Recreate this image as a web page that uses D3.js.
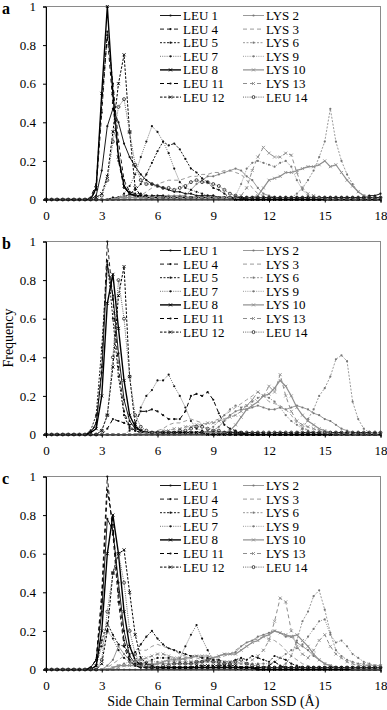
<!DOCTYPE html>
<html>
<head>
<meta charset="utf-8">
<script src="https://cdn.jsdelivr.net/npm/d3@7"></script>
<style>
  body { margin: 0; background: #fff; }
  svg { display: block; font-family: "Liberation Serif", "Times New Roman", serif; }
</style>
</head>
<body>
<div id="chart"></div>
<script>
"use strict";

/* ===== data ===== */

let xValues = [0,0.3,0.6,0.9,1.2,1.5,1.8,2.1,2.4,2.7,3,3.3,3.6,3.9,4.2,4.5,4.8,5.1,5.4,5.7,
  6,6.3,6.6,6.9,7.2,7.5,7.8,8.1,8.4,8.7,9,9.3,9.6,9.9,10.2,10.5,10.8,11.1,11.4,11.7,
  12,12.3,12.6,12.9,13.2,13.5,13.8,14.1,14.4,14.7,15,15.3,15.6,15.9,16.2,16.5,16.8,17.1,17.4,17.7,18];

let xTicks = [0, 3, 6, 9, 12, 15, 18];
let yTicks = [0, 0.2, 0.4, 0.6, 0.8, 1];

let seriesNames = ["LEU 1","LYS 2","LYS 3","LEU 4","LEU 5","LYS 6","LEU 7",
                   "LEU 8","LYS 9","LYS 10","LEU 11","LEU 12","LYS 13","LEU 14"];

let legendLeft  = ["LEU 1","LEU 4","LEU 5","LEU 7","LEU 8","LEU 11","LEU 12"];
let legendRight = ["LYS 2","LYS 3","LYS 6","LYS 9","LYS 10","LYS 13","LEU 14"];

let panelLetters = ["a", "b", "c"];

/* panel a, one row per series in seriesNames order */
let panelA = [
  [0,0,0,0,0,0,0,0,0,0.02, 0.15,0.38,0.47,0.40,0.29,0.22,0.17,0.13,0.10,0.08,
   0.07,0.06,0.05,0.04,0.04,0.03,0.03,0.02,0.02,0.02, 0.02,0.01,0.01,0.01,0.01,0.01,0.01,0.01,0.01,0.01,
   0.01,0.01,0.01,0.01,0.01,0.01,0.01,0.01,0.01,0.01, 0.01,0.01,0.01,0.01,0.01,0.01,0.01,0.01,0.02,0.02,0.03],
  [0,0,0,0,0,0,0,0,0,0, 0,0,0.01,0.01,0.02,0.02,0.02,0.02,0.02,0.02,
   0.02,0.02,0.02,0.02,0.02,0.02,0.05,0.08,0.10,0.12, 0.12,0.13,0.14,0.15,0.16,0.15,0.12,0.10,0.06,0.03,
   0.02,0.01,0.01,0.01,0.01,0.01,0,0,0,0, 0,0,0,0,0,0,0,0,0,0,0],
  [0,0,0,0,0,0,0,0,0,0, 0,0,0,0.01,0.01,0.02,0.02,0.02,0.04,0.06,
   0.08,0.09,0.10,0.10,0.10,0.11,0.12,0.12,0.13,0.13, 0.14,0.14,0.15,0.15,0.14,0.13,0.10,0.06,0.03,0.02,
   0.01,0.01,0,0,0,0,0,0,0,0, 0,0,0,0,0,0,0,0,0,0,0],
  [0,0,0,0,0,0,0,0,0,0.05, 0.45,0.87,0.60,0.30,0.10,0.04,0.03,0.03,0.02,0.02,
   0.02,0.02,0.01,0.01,0.01,0.01,0.01,0.01,0.01,0.01, 0.01,0.01,0.01,0.01,0.01,0.01,0.01,0.01,0,0,
   0,0,0,0,0,0,0,0,0,0, 0,0,0,0,0,0,0,0,0,0,0],
  [0,0,0,0,0,0,0,0,0,0, 0,0,0.01,0.01,0.01,0.03,0.05,0.08,0.13,0.19,
   0.25,0.30,0.28,0.29,0.26,0.21,0.16,0.14,0.11,0.09, 0.06,0.05,0.03,0.01,0.01,0.01,0.01,0.01,0.01,0.01,
   0.01,0.01,0.01,0.01,0.01,0.01,0.01,0.01,0.01,0.01, 0.01,0.01,0.01,0.01,0.01,0.01,0.01,0.01,0.01,0.01,0.01],
  [0,0,0,0,0,0,0,0,0,0, 0,0,0,0,0,0,0,0,0,0,
   0,0,0,0,0,0,0,0,0,0, 0,0,0,0,0,0,0,0,0,0,
   0,0,0,0,0.01,0.03,0.06,0.10,0.15,0.22, 0.30,0.47,0.30,0.20,0.13,0.08,0.04,0.02,0.01,0.01,0.01],
  [0,0,0,0,0,0,0,0,0,0, 0,0,0,0.01,0.03,0.07,0.13,0.22,0.30,0.38,
   0.35,0.30,0.24,0.16,0.09,0.06,0.05,0.04,0.03,0.02, 0.02,0.01,0.01,0.01,0.01,0.01,0.01,0.01,0.01,0.01,
   0.01,0.01,0.01,0.01,0.01,0.01,0,0,0,0, 0,0,0,0,0,0,0,0,0,0,0],
  [0,0,0,0,0,0,0,0,0,0.06, 0.55,1.00,0.55,0.22,0.07,0.03,0.02,0.01,0.01,0.01,
   0.01,0.01,0.01,0.01,0.01,0.01,0.01,0.01,0.01,0.01, 0.01,0.01,0.01,0.01,0,0,0,0,0,0,
   0,0,0,0,0,0,0,0,0,0, 0,0,0,0,0,0,0,0,0,0,0],
  [0,0,0,0,0,0,0,0,0,0, 0,0,0,0,0.01,0.01,0.01,0.01,0.01,0.01,
   0.01,0.01,0.01,0.01,0.01,0.01,0.01,0.01,0.01,0.01, 0.01,0.01,0.01,0.01,0.02,0.08,0.16,0.19,0.20,0.19,
   0.18,0.17,0.19,0.20,0.17,0.10,0.05,0.02,0.01,0.01, 0,0,0,0,0,0,0,0,0,0,0],
  [0,0,0,0,0,0,0,0,0,0, 0,0,0,0.01,0.01,0.01,0.01,0.01,0.01,0.01,
   0.01,0.01,0.01,0.01,0.01,0.01,0.01,0.01,0.01,0.01, 0.01,0.01,0.01,0.01,0.01,0.01,0.01,0.01,0.02,0.06,
   0.10,0.11,0.12,0.14,0.14,0.15,0.16,0.17,0.17,0.18, 0.20,0.17,0.18,0.14,0.10,0.07,0.04,0.02,0.01,0.01,0.01],
  [0,0,0,0,0,0,0,0,0.01,0.08, 0.50,0.85,0.50,0.20,0.06,0.03,0.02,0.02,0.02,0.01,
   0.01,0.01,0.01,0.01,0.01,0.01,0.01,0.01,0.01,0.01, 0.01,0.01,0.01,0.01,0.01,0.01,0.01,0.01,0.01,0.01,
   0.01,0.01,0.01,0.01,0.01,0.01,0.01,0.01,0.01,0.01, 0.01,0.01,0.01,0.01,0.01,0.01,0.01,0.01,0.01,0.01,0.01],
  [0,0,0,0,0,0,0,0,0,0.01, 0.03,0.12,0.35,0.60,0.75,0.35,0.06,0.02,0.01,0.01,
   0.01,0.01,0.01,0.01,0.01,0.01,0.01,0.01,0.01,0.01, 0.01,0.01,0.01,0.01,0.01,0.01,0,0,0,0,
   0,0,0,0,0,0,0,0,0,0, 0,0,0,0,0,0,0,0,0,0,0],
  [0,0,0,0,0,0,0,0,0,0, 0,0,0,0,0,0.01,0.01,0.01,0.01,0.01,
   0.01,0.01,0.01,0.01,0.01,0.01,0.01,0.01,0.01,0.01, 0.01,0.01,0.01,0.01,0.01,0.02,0.06,0.15,0.22,0.27,
   0.24,0.22,0.22,0.24,0.23,0.14,0.06,0.03,0.02,0.01, 0,0,0,0,0,0,0,0,0,0,0],
  [0,0,0,0,0,0,0,0,0,0, 0.02,0.10,0.30,0.48,0.52,0.35,0.18,0.10,0.08,0.08,
   0.07,0.06,0.06,0.05,0.06,0.07,0.09,0.10,0.09,0.09, 0.08,0.07,0.05,0.03,0.02,0.01,0.01,0.01,0.01,0.01,
   0.01,0.01,0.01,0.01,0.01,0.01,0.01,0.01,0.01,0.01, 0.01,0.01,0.01,0.01,0.01,0.01,0.01,0.01,0.01,0.01,0.01]
];

/* panel b */
let panelB = [
  [0,0,0,0,0,0,0,0,0.01,0.06, 0.32,0.88,0.72,0.42,0.18,0.07,0.03,0.02,0.01,0.01,
   0.01,0.01,0.01,0.01,0.01,0.01,0.01,0.01,0.01,0.01, 0.01,0.01,0.01,0.01,0.01,0,0,0,0,0,
   0,0,0,0,0,0,0,0,0,0, 0,0,0,0,0,0,0,0,0,0,0],
  [0,0,0,0,0,0,0,0,0,0, 0,0,0,0,0,0,0,0.01,0.01,0.01,
   0.01,0.01,0.01,0.01,0.01,0.01,0.01,0.01,0.01,0.01, 0.02,0.04,0.07,0.10,0.12,0.13,0.13,0.14,0.15,0.14,
   0.13,0.13,0.14,0.13,0.14,0.15,0.14,0.13,0.11,0.10, 0.08,0.07,0.05,0.03,0.02,0.01,0.01,0,0,0,0],
  [0,0,0,0,0,0,0,0,0,0, 0,0,0,0,0,0,0,0.01,0.01,0.01,
   0.02,0.03,0.05,0.06,0.06,0.07,0.08,0.07,0.06,0.05, 0.07,0.08,0.10,0.12,0.14,0.16,0.18,0.20,0.22,0.20,
   0.17,0.16,0.15,0.13,0.10,0.06,0.04,0.02,0.01,0.01, 0,0,0,0,0,0,0,0,0,0,0],
  [0,0,0,0,0,0,0,0,0.01,0.05, 0.35,1.00,0.70,0.35,0.12,0.04,0.02,0.01,0.01,0.01,
   0.01,0.01,0.01,0.01,0.01,0.01,0.01,0.01,0.01,0.01, 0.01,0.01,0,0,0,0,0,0,0,0,
   0,0,0,0,0,0,0,0,0,0, 0,0,0,0,0,0,0,0,0,0,0],
  [0,0,0,0,0,0,0,0,0.02,0.10, 0.45,0.90,0.60,0.30,0.10,0.03,0.02,0.01,0.01,0.01,
   0.01,0.01,0.01,0.01,0.01,0.01,0.01,0.01,0.01,0.01, 0.01,0.01,0.01,0,0,0,0,0,0,0,
   0,0,0,0,0,0,0,0,0,0, 0,0,0,0,0,0,0,0,0,0,0],
  [0,0,0,0,0,0,0,0,0,0, 0,0,0,0,0,0,0,0,0,0,
   0,0,0,0,0,0,0,0,0,0, 0,0,0,0,0,0,0,0,0,0,
   0,0,0,0,0,0.01,0.03,0.08,0.13,0.20, 0.24,0.30,0.39,0.41,0.38,0.17,0.08,0.03,0.01,0,0],
  [0,0,0,0,0,0,0,0,0,0, 0,0,0,0,0,0.02,0.05,0.14,0.20,0.23,
   0.28,0.28,0.31,0.25,0.20,0.14,0.07,0.03,0.02,0.01, 0.01,0.01,0.01,0.01,0,0,0,0,0,0,
   0,0,0,0,0,0,0,0,0,0, 0,0,0,0,0,0,0,0,0,0,0],
  [0,0,0,0,0,0,0,0,0.01,0.03, 0.20,0.68,0.83,0.55,0.28,0.10,0.04,0.02,0.01,0.01,
   0.01,0.01,0.01,0.01,0.01,0.01,0.01,0.01,0.01,0.01, 0.01,0.01,0.01,0.01,0.01,0.01,0,0,0,0,
   0,0,0,0,0,0,0,0,0,0, 0,0,0,0,0,0,0,0,0,0,0],
  [0,0,0,0,0,0,0,0,0,0, 0,0,0,0,0,0,0,0,0.01,0.01,
   0.01,0.01,0.01,0.01,0.01,0.01,0.01,0.01,0.01,0.02, 0.04,0.07,0.10,0.13,0.15,0.14,0.15,0.17,0.19,0.20,
   0.19,0.17,0.14,0.10,0.07,0.05,0.03,0.02,0.01,0.01, 0,0,0,0,0,0,0,0,0,0,0],
  [0,0,0,0,0,0,0,0,0,0, 0,0,0,0,0,0,0,0,0,0,
   0,0,0,0,0,0.01,0.01,0.01,0.01,0.01, 0.01,0.01,0.01,0.02,0.05,0.09,0.13,0.15,0.17,0.20,
   0.21,0.24,0.28,0.25,0.20,0.14,0.10,0.07,0.05,0.03, 0.02,0.01,0.01,0.01,0,0,0,0,0,0,0],
  [0,0,0,0,0,0,0,0,0,0, 0,0.03,0.08,0.07,0.06,0.05,0.06,0.12,0.12,0.13,
   0.12,0.10,0.08,0.08,0.08,0.12,0.20,0.21,0.20,0.22, 0.18,0.11,0.05,0.03,0.02,0.01,0.01,0.01,0.01,0.01,
   0.01,0.01,0.01,0.01,0.01,0.01,0.01,0.01,0.01,0.01, 0.01,0.01,0.01,0.01,0.01,0.01,0.01,0.01,0.01,0.01,0.01],
  [0,0,0,0,0,0,0,0,0,0, 0.02,0.10,0.35,0.72,0.87,0.30,0.05,0.02,0.01,0.01,
   0.01,0.01,0.01,0.01,0.01,0.01,0.01,0.01,0.01,0, 0,0,0,0,0,0,0,0,0,0,
   0,0,0,0,0,0,0,0,0,0, 0,0,0,0,0,0,0,0,0,0,0],
  [0,0,0,0,0,0,0,0,0,0, 0,0,0,0,0,0,0,0.01,0.01,0.01,
   0.01,0.02,0.02,0.03,0.03,0.04,0.04,0.05,0.05,0.06, 0.06,0.07,0.08,0.09,0.10,0.12,0.15,0.18,0.22,0.20,
   0.25,0.22,0.31,0.20,0.12,0.07,0.05,0.04,0.03,0.02, 0.01,0.01,0,0,0,0,0,0,0,0,0],
  [0,0,0,0,0,0,0,0,0,0, 0.02,0.10,0.40,0.80,0.60,0.30,0.10,0.04,0.02,0.01,
   0.01,0.01,0.01,0.01,0.02,0.02,0.03,0.04,0.04,0.03, 0.02,0.02,0.01,0.01,0.01,0.01,0.01,0.01,0.01,0.01,
   0.01,0.01,0.01,0.01,0.01,0.01,0.01,0.01,0.01,0.01, 0.01,0.01,0.01,0.01,0.01,0.01,0.01,0.01,0.01,0.01,0.01]
];

/* panel c */
let panelC = [
  [0,0,0,0,0,0,0,0,0.01,0.05, 0.30,0.78,0.72,0.45,0.20,0.07,0.03,0.02,0.01,0.01,
   0.01,0.01,0.01,0.01,0.01,0.01,0.01,0.01,0.01,0.01, 0.01,0.01,0.01,0.01,0.01,0.01,0.01,0.01,0.01,0.01,
   0.01,0.01,0.01,0.01,0.01,0.01,0.01,0.01,0.01,0.01, 0.01,0.01,0.01,0.01,0.01,0.01,0.01,0.01,0.01,0.01,0.01],
  [0,0,0,0,0,0,0,0,0,0, 0,0.02,0.05,0.12,0.08,0.05,0.04,0.03,0.03,0.03,
   0.03,0.03,0.03,0.03,0.03,0.03,0.03,0.03,0.04,0.05, 0.06,0.07,0.08,0.08,0.09,0.12,0.14,0.15,0.17,0.18,
   0.19,0.20,0.19,0.17,0.17,0.14,0.12,0.10,0.07,0.05, 0.03,0.02,0.01,0.01,0.01,0.01,0.01,0.01,0.01,0.01,0.01],
  [0,0,0,0,0,0,0,0,0,0, 0,0.01,0.03,0.05,0.07,0.06,0.08,0.10,0.10,0.12,
   0.13,0.12,0.11,0.10,0.08,0.07,0.06,0.06,0.05,0.05, 0.06,0.06,0.07,0.08,0.10,0.12,0.14,0.15,0.16,0.17,
   0.16,0.15,0.13,0.10,0.07,0.05,0.03,0.02,0.01,0.01, 0,0,0,0,0,0,0,0,0,0,0],
  [0,0,0,0,0,0,0,0,0.01,0.05, 0.40,1.00,0.70,0.35,0.12,0.04,0.02,0.01,0.01,0.01,
   0.01,0.01,0.01,0.01,0.01,0.01,0.01,0.01,0.01,0.01, 0.01,0.01,0.01,0.01,0,0,0,0,0,0,
   0,0,0,0,0,0,0,0,0,0, 0,0,0,0,0,0,0,0,0,0,0],
  [0,0,0,0,0,0,0,0,0,0.02, 0.15,0.24,0.18,0.13,0.12,0.08,0.09,0.13,0.17,0.20,
   0.16,0.13,0.11,0.10,0.09,0.08,0.07,0.07,0.06,0.06, 0.05,0.05,0.04,0.04,0.05,0.06,0.05,0.07,0.06,0.05,
   0.04,0.07,0.06,0.05,0.03,0.02,0.01,0.01,0.01,0.01, 0.01,0.01,0.01,0.01,0.01,0.01,0.01,0.01,0.01,0.01,0.01],
  [0,0,0,0,0,0,0,0,0,0, 0,0,0,0,0,0,0,0,0,0,
   0,0,0,0,0,0,0,0,0,0, 0,0,0,0,0,0,0,0,0.01,0.01,
   0.01,0.01,0.01,0.03,0.07,0.15,0.25,0.30,0.38,0.41, 0.31,0.19,0.10,0.07,0.05,0.04,0.03,0.03,0.02,0.02,0.02],
  [0,0,0,0,0,0,0,0,0,0.02, 0.12,0.20,0.16,0.10,0.06,0.04,0.03,0.03,0.04,0.05,
   0.06,0.06,0.06,0.05,0.06,0.12,0.18,0.23,0.16,0.10, 0.05,0.03,0.02,0.01,0.01,0.01,0.01,0.01,0.01,0.01,
   0.01,0.01,0.01,0.01,0.01,0.01,0.01,0.01,0.01,0.01, 0.01,0.01,0.01,0.01,0.01,0.01,0.01,0.01,0.01,0.01,0.01],
  [0,0,0,0,0,0,0,0,0,0.02, 0.20,0.60,0.80,0.60,0.30,0.12,0.05,0.02,0.01,0.01,
   0.01,0.01,0.01,0.01,0.01,0.01,0.01,0.01,0.01,0.01, 0.01,0.01,0.01,0.01,0.01,0.01,0.01,0.01,0,0,
   0,0,0,0,0,0,0,0,0,0, 0,0,0,0,0,0,0,0,0,0,0],
  [0,0,0,0,0,0,0,0,0,0, 0,0,0.01,0.02,0.03,0.04,0.05,0.05,0.04,0.04,
   0.04,0.04,0.04,0.04,0.04,0.04,0.04,0.04,0.04,0.04, 0.04,0.03,0.03,0.03,0.03,0.03,0.03,0.03,0.03,0.03,
   0.03,0.04,0.06,0.08,0.10,0.11,0.13,0.17,0.21,0.25, 0.26,0.18,0.14,0.15,0.12,0.08,0.06,0.04,0.03,0.02,0.02],
  [0,0,0,0,0,0,0,0,0,0, 0,0,0.01,0.02,0.02,0.02,0.02,0.02,0.01,0.02,
   0.03,0.04,0.05,0.05,0.05,0.06,0.06,0.07,0.07,0.07, 0.06,0.07,0.08,0.08,0.08,0.10,0.12,0.14,0.15,0.17,
   0.18,0.20,0.19,0.18,0.17,0.18,0.15,0.12,0.08,0.05, 0.03,0.02,0.01,0.01,0.01,0,0,0,0,0,0],
  [0,0,0,0,0,0,0,0,0.01,0.05, 0.35,0.93,0.75,0.40,0.15,0.05,0.02,0.01,0.01,0.01,
   0.01,0.01,0.01,0.01,0.01,0.01,0.01,0.01,0.01,0.01, 0.01,0.01,0.01,0.01,0.01,0.01,0.01,0.01,0.01,0.01,
   0.02,0.04,0.02,0.01,0.01,0.01,0.01,0.01,0.01,0.01, 0.01,0.01,0.01,0.01,0.01,0.01,0.01,0.01,0.01,0.01,0.01],
  [0,0,0,0,0,0,0,0,0,0, 0.03,0.20,0.50,0.60,0.62,0.40,0.18,0.06,0.03,0.02,
   0.01,0.01,0.01,0.01,0.01,0.01,0.01,0.02,0.02,0.02, 0.02,0.02,0.02,0.02,0.02,0.01,0.01,0.01,0.01,0.01,
   0.01,0.01,0.01,0.01,0.01,0.01,0.01,0.01,0.01,0.01, 0.01,0.01,0.01,0.01,0.01,0.01,0.01,0.01,0.01,0.01,0.01],
  [0,0,0,0,0,0,0,0,0,0, 0,0,0,0.01,0.02,0.03,0.04,0.05,0.06,0.07,
   0.08,0.08,0.07,0.06,0.06,0.05,0.04,0.04,0.04,0.04, 0.04,0.04,0.04,0.04,0.04,0.03,0.03,0.05,0.07,0.10,
   0.15,0.25,0.37,0.35,0.20,0.12,0.08,0.06,0.10,0.15, 0.18,0.12,0.08,0.06,0.04,0.03,0.02,0.02,0.02,0.02,0.02],
  [0,0,0,0,0,0,0,0,0,0, 0.05,0.30,0.50,0.60,0.45,0.20,0.08,0.03,0.02,0.01,
   0.01,0.02,0.02,0.03,0.03,0.03,0.03,0.04,0.04,0.05, 0.04,0.04,0.03,0.03,0.04,0.05,0.03,0.02,0.02,0.01,
   0.01,0.01,0.01,0.01,0.01,0.01,0.01,0.01,0.01,0.01, 0.01,0.01,0.01,0.01,0.01,0.01,0.01,0.01,0.01,0.01,0.01]
];

let panels = [panelA, panelB, panelC];

/* ===== styles ===== */

let black = "#000";
let grey = "#8e8e8e";

let seriesStyle = {
  "LEU 1":  {color: black,  width: 0.9, dash: null,      marker: "dot"},
  "LYS 2":  {color: grey,   width: 0.9, dash: null,      marker: "dot"},
  "LYS 3":  {color: grey,   width: 0.9, dash: "4,3",     marker: "none"},
  "LEU 4":  {color: black,  width: 0.9, dash: "4,3",     marker: "dot"},
  "LEU 5":  {color: black,  width: 0.9, dash: "2,1.5",   marker: "dot"},
  "LYS 6":  {color: grey,   width: 0.9, dash: "2,1.5",   marker: "dot"},
  "LEU 7":  {color: "#666", width: 0.9, dash: "1,1.2",   marker: "dot"},
  "LEU 8":  {color: black,  width: 1.4, dash: null,      marker: "x"},
  "LYS 9":  {color: grey,   width: 0.9, dash: "1,1.2",   marker: "dot"},
  "LYS 10": {color: grey,   width: 1.2, dash: null,      marker: "x"},
  "LEU 11": {color: black,  width: 1.0, dash: "4,3",     marker: "dot"},
  "LEU 12": {color: black,  width: 1.0, dash: "2.5,1.5", marker: "x"},
  "LYS 13": {color: grey,   width: 1.0, dash: "4,3",     marker: "x"},
  "LEU 14": {color: "#555", width: 0.9, dash: "1,1.2",   marker: "circle"}
};

/* ===== layout ===== */

let svgWidth = 387;
let svgHeight = 710;
let plotLeft = 46;
let plotRight = 380.5;
let panelTops = [6.5, 241.5, 476.5];
let plotHeight = 193;

let svg = d3.select("#chart")
  .append("svg")
  .attr("width", svgWidth)
  .attr("height", svgHeight);

svg.append("rect")
  .attr("width", svgWidth)
  .attr("height", svgHeight)
  .attr("fill", "#fff");

let xScale = d3.scaleLinear()
  .domain([0, 18])
  .range([plotLeft, plotRight]);

function drawMarker(g, type, color) {
  if (type === "dot") {
    g.append("circle").attr("r", 1.1).attr("fill", color);
  } else if (type === "x") {
    g.append("path")
      .attr("d", "M-1.5,-1.5L1.5,1.5M-1.5,1.5L1.5,-1.5")
      .attr("stroke", color)
      .attr("stroke-width", 0.9)
      .attr("fill", "none");
  } else if (type === "circle") {
    g.append("circle").attr("r", 1.5)
      .attr("fill", "none")
      .attr("stroke", "#222")
      .attr("stroke-width", 0.8);
  }
}

function markerColor(name, st) {
  if (st.marker === "x") return st.color;
  return name.startsWith("LEU") ? "#111" : "#777";
}

panels.forEach(function(panelData, pi) {

  let top = panelTops[pi];
  let bottom = top + plotHeight;

  let yScale = d3.scaleLinear()
    .domain([0, 1])
    .range([bottom, top]);

  let g = svg.append("g");

  /* grey frame (top and right) */
  g.append("rect")
    .attr("x", plotLeft)
    .attr("y", top)
    .attr("width", plotRight - plotLeft)
    .attr("height", plotHeight)
    .attr("fill", "none")
    .attr("stroke", "#8a8a8a")
    .attr("stroke-width", 1);

  /* series */
  let line = d3.line()
    .x(d => xScale(d[0]))
    .y(d => yScale(d[1]));

  seriesNames.forEach(function(name, si) {
    let st = seriesStyle[name];
    let pts = xValues.map((xv, k) => [xv, panelData[si][k]]);

    g.append("path")
      .datum(pts)
      .attr("d", line)
      .attr("fill", "none")
      .attr("stroke", st.color)
      .attr("stroke-width", st.width)
      .attr("stroke-dasharray", st.dash)
      .attr("stroke-linejoin", "round");

    if (st.marker !== "none") {
      g.append("g")
        .selectAll("g")
        .data(pts)
        .join("g")
        .attr("transform", d => "translate(" + xScale(d[0]) + "," + yScale(d[1]) + ")")
        .each(function() {
          drawMarker(d3.select(this), st.marker, markerColor(name, st));
        });
    }
  });

  /* axes */
  let yAxis = d3.axisLeft(yScale)
    .tickValues(yTicks)
    .tickFormat(d => String(d))
    .tickSize(3)
    .tickPadding(7);

  let yG = g.append("g")
    .attr("transform", "translate(" + plotLeft + ",0)")
    .call(yAxis);

  let xAxis = d3.axisBottom(xScale)
    .tickValues(xTicks)
    .tickSize(3)
    .tickPadding(8);

  let xG = g.append("g")
    .attr("transform", "translate(0," + bottom + ")")
    .call(xAxis);

  [xG, yG].forEach(function(ax) {
    ax.select(".domain").attr("stroke", "#000").attr("stroke-width", 1);
    ax.selectAll(".tick line").attr("stroke", "#000");
    ax.selectAll("text")
      .attr("font-family", "Liberation Serif")
      .attr("font-size", 13)
      .attr("fill", "#000");
  });

  /* panel letter */
  svg.append("text")
    .attr("x", 2)
    .attr("y", top + 7)
    .attr("font-size", 16)
    .attr("font-weight", "bold")
    .text(panelLetters[pi]);

  /* legend */
  let legendCols = [
    {names: legendLeft, x: 160},
    {names: legendRight, x: 243}
  ];

  legendCols.forEach(function(col) {
    col.names.forEach(function(name, i) {
      let st = seriesStyle[name];
      let ly = top + 9 + i * 13.6;

      g.append("line")
        .attr("x1", col.x)
        .attr("x2", col.x + 21)
        .attr("y1", ly)
        .attr("y2", ly)
        .attr("stroke", st.color)
        .attr("stroke-width", st.width)
        .attr("stroke-dasharray", st.dash);

      if (st.marker !== "none") {
        let mg = g.append("g").attr("transform", "translate(" + (col.x + 10.5) + "," + ly + ")");
        drawMarker(mg, st.marker, markerColor(name, st));
      }

      g.append("text")
        .attr("x", col.x + 23)
        .attr("y", ly)
        .attr("dy", "0.35em")
        .attr("font-size", 13)
        .text(name);
    });
  });
});

/* axis titles */
svg.append("text")
  .attr("transform", "translate(13," + (panelTops[1] + plotHeight / 2) + ") rotate(-90)")
  .attr("text-anchor", "middle")
  .attr("font-size", 14)
  .text("Frequency");

svg.append("text")
  .attr("x", (plotLeft + plotRight) / 2)
  .attr("y", 706)
  .attr("text-anchor", "middle")
  .attr("font-size", 14)
  .text("Side Chain Terminal Carbon SSD (Å)");
</script>
</body>
</html>
